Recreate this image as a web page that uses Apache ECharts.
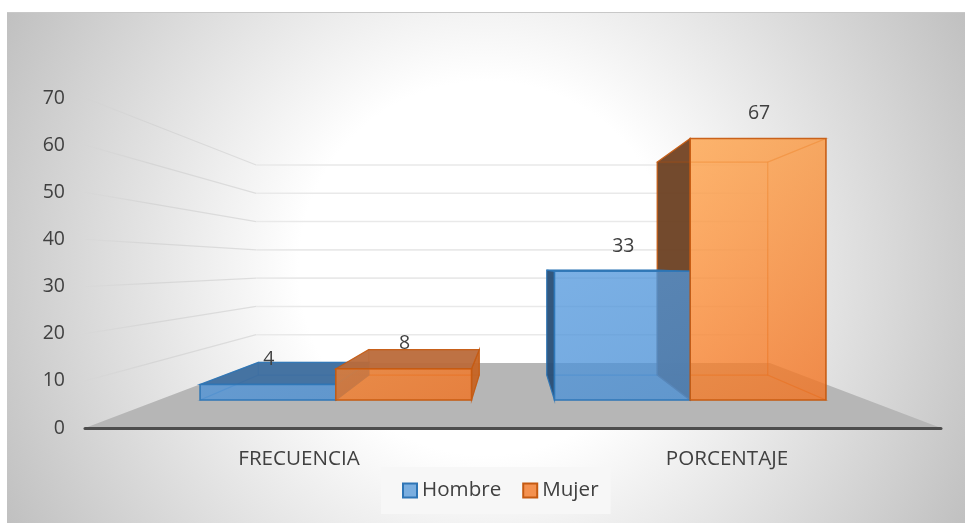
<!DOCTYPE html>
<html>
<head>
<meta charset="utf-8">
<style>html,body{margin:0;padding:0;background:#fff}#c{width:971px;height:523px}</style>
<script src="https://cdn.jsdelivr.net/npm/echarts@6/dist/echarts.min.js"></script>
</head>
<body>
<div id="c"></div>
<script>
const categories = ['FRECUENCIA', 'PORCENTAJE'];
const hombre = [4, 33];
const mujer = [8, 67];
const gridValues = [10, 20, 30, 40, 50, 60, 70];

const FONT = '"Open Sans", sans-serif';
const FS = 19.5, FS_X = 20.6, FS_LEG = 20.6, TXT = '#404040';
const SHRINK = 0.4, RISE = 65;
const D_FRONT = 0.43, D_BACK = 0.815, BAR = 0.383;

function projector(cs) {
  const cx = cs.x + cs.width / 2, by = cs.y + cs.height;
  return (x, y, d) => {
    const s = 1 - SHRINK * d;
    return [cx + (x - cx) * s, by - RISE * d + (y - by) * s];
  };
}

const PAL = {
  Hombre: {
    edge: 'rgba(46,117,182,0.9)', soft: 'rgba(46,117,182,0.28)',
    front: ['rgba(92,160,228,0.76)', 'rgba(72,142,212,0.76)'],
    inner: 'rgba(91,155,213,0.05)', top: 'rgba(58,108,160,0.9)',
    left: 'rgba(40,78,118,0.95)', right: 'rgba(52,104,158,0.9)', topZ: 2.5
  },
  Mujer: {
    edge: 'rgba(197,90,17,0.9)', soft: 'rgba(197,90,17,0.32)',
    front: ['rgba(255,162,70,0.76)', 'rgba(244,112,28,0.76)'],
    inner: 'rgba(237,125,49,0.06)', top: 'rgba(186,106,58,0.95)',
    left: 'rgba(108,64,34,0.95)', right: 'rgba(197,100,36,0.95)', topZ: 2.7
  }
};

function barRenderer(name, off0, off1, zInner, zFront) {
  const pal = PAL[name];
  return function (params, api) {
    const i = api.value(0), v = api.value(1);
    const cs = params.coordSys, P = projector(cs);
    const cx = cs.x + cs.width / 2;
    const t = api.coord([i, v]), b = api.coord([i, 0]);
    const band = api.size([1, 0])[0];
    const x1 = t[0] + band * off0, x2 = t[0] + band * off1;
    const fTL = P(x1, t[1], D_FRONT), fTR = P(x2, t[1], D_FRONT), fBL = P(x1, b[1], D_FRONT), fBR = P(x2, b[1], D_FRONT);
    const bTL = P(x1, t[1], D_BACK), bTR = P(x2, t[1], D_BACK), bBL = P(x1, b[1], D_BACK), bBR = P(x2, b[1], D_BACK);
    const leftSeen = (x1 + x2) / 2 > cx;
    const topSeen = bTL[1] < fTL[1] - 0.5;
    const face = (pts, fill, stroke, z2, lw) => ({
      type: 'polygon', z2: z2, silent: true,
      shape: { points: pts },
      style: { fill: fill, stroke: stroke, lineWidth: lw == null ? 1.2 : lw }
    });
    const children = [
      face([bTL, bTR, bBR, bBL], pal.inner, pal.soft, zInner),
      face([bBL, bBR, fBR, fBL], pal.inner, pal.soft, zInner),
      face([fTL, bTL, bBL, fBL], leftSeen ? pal.left : pal.inner, leftSeen ? pal.edge : pal.soft, zInner),
      face([fTR, bTR, bBR, fBR], leftSeen ? pal.inner : pal.right, leftSeen ? pal.soft : pal.edge, zInner),
      face([fTL, fTR, bTR, bTL], topSeen ? pal.top : pal.inner, topSeen ? pal.edge : pal.soft, topSeen ? pal.topZ : zInner),
      face([fTL, fTR, fBR, fBL], {
        type: 'linear', global: true,
        x: fTL[0], y: cs.y + 36, x2: fTL[0] + 135, y2: fBL[1],
        colorStops: [{ offset: 0, color: pal.front[0] }, { offset: 1, color: pal.front[1] }]
      }, pal.edge, zFront, 1.6),
      {
        type: 'text', z2: 9, silent: true,
        style: {
          text: String(v), x: (fTL[0] + fTR[0]) / 2 + 1, y: fTL[1] - 25,
          align: 'center', verticalAlign: 'middle',
          font: FS + 'px ' + FONT, fill: TXT
        }
      }
    ];
    return { type: 'group', children: children };
  };
}

function floorRenderer(params) {
  const cs = params.coordSys, P = projector(cs);
  const by = cs.y + cs.height;
  return {
    type: 'polygon', silent: true, z2: -5,
    shape: { points: [[cs.x, by], [cs.x + cs.width, by], P(cs.x + cs.width, by, 1), P(cs.x, by, 1)] },
    style: { fill: '#b6b6b6' }
  };
}

function wallRenderer(params, api) {
  const cs = params.coordSys, P = projector(cs);
  const y = api.coord([0, api.value(1)])[1];
  const a = [cs.x, y], b = P(cs.x, y, 1), c = P(cs.x + cs.width, y, 1);
  return {
    type: 'group', silent: true,
    children: [
      {
        type: 'line', silent: true, z2: -4,
        shape: { x1: a[0], y1: a[1], x2: b[0], y2: b[1] },
        style: {
          lineWidth: 1.3,
          stroke: {
            type: 'linear', global: true, x: a[0], y: 0, x2: b[0], y2: 0,
            colorStops: [{ offset: 0, color: 'rgba(205,205,205,0.1)' }, { offset: 0.4, color: 'rgba(208,208,208,0.7)' }, { offset: 1, color: 'rgba(222,222,222,1)' }]
          }
        }
      },
      {
        type: 'line', silent: true, z2: -4,
        shape: { x1: b[0], y1: b[1], x2: c[0], y2: c[1] },
        style: { lineWidth: 1.6, stroke: '#e9e9e9' }
      }
    ]
  };
}

const chart = echarts.init(document.getElementById('c'), null, { renderer: 'canvas' });
chart.setOption({
  animation: false,
  textStyle: { fontFamily: FONT },
  graphic: [{
    type: 'rect', z: -10, silent: true,
    shape: { x: 7, y: 12, width: 958, height: 511 },
    style: {
      fill: {
        type: 'radial', global: true, x: 486, y: 268, r: 550,
        colorStops: [{ offset: 0, color: '#ffffff' }, { offset: 0.34, color: '#ffffff' }, { offset: 1, color: '#bfbfbf' }]
      }
    }
  }, {
    type: 'line', z: -9, silent: true,
    shape: { x1: 7, y1: 12.5, x2: 965, y2: 12.5 },
    style: { stroke: '#c8c8c8', lineWidth: 1 }
  }],
  grid: { left: 85, right: 30, top: 98, bottom: 95 },
  legend: {
    data: ['Hombre', 'Mujer'], left: 381, top: 467,
    padding: [13, 12, 13, 21], itemGap: 21, itemWidth: 14, itemHeight: 14,
    icon: 'rect', backgroundColor: '#f7f7f7', selectedMode: false,
    textStyle: { fontSize: FS_LEG, color: TXT, fontFamily: FONT }
  },
  xAxis: {
    type: 'category', data: categories, z: 6,
    axisLine: { lineStyle: { color: '#4d4d4d', width: 3 } },
    axisTick: { show: false },
    axisLabel: { color: TXT, fontSize: FS_X, fontFamily: FONT, margin: 21 },
    splitLine: { show: false }
  },
  yAxis: {
    type: 'value', min: 0, max: 70, interval: 10,
    axisLine: { show: false }, axisTick: { show: false },
    axisLabel: { color: TXT, fontSize: FS, fontFamily: FONT, margin: 20, padding: [4, 0, 0, 0] },
    splitLine: { show: false }
  },
  series: [
    { type: 'custom', name: 'floor', silent: true, renderItem: floorRenderer, data: [[0, 0]], encode: { x: 0, y: 1 }, clip: false },
    { type: 'custom', name: 'walls', silent: true, renderItem: wallRenderer, data: gridValues.map(v => [0, v]), encode: { x: 0, y: 1 }, clip: false },
    {
      type: 'custom', name: 'Hombre', silent: true, clip: false,
      itemStyle: { color: '#7aaee0', borderColor: '#2e75b6', borderWidth: 1.5 },
      renderItem: barRenderer('Hombre', -BAR, 0, 2, 3),
      data: hombre.map((v, i) => [i, v]), encode: { x: 0, y: 1 }
    },
    {
      type: 'custom', name: 'Mujer', silent: true, clip: false,
      itemStyle: { color: '#f4914f', borderColor: '#c55a11', borderWidth: 1.5 },
      renderItem: barRenderer('Mujer', 0, BAR, 1, 4),
      data: mujer.map((v, i) => [i, v]), encode: { x: 0, y: 1 }
    }
  ]
});
</script>
</body>
</html>
